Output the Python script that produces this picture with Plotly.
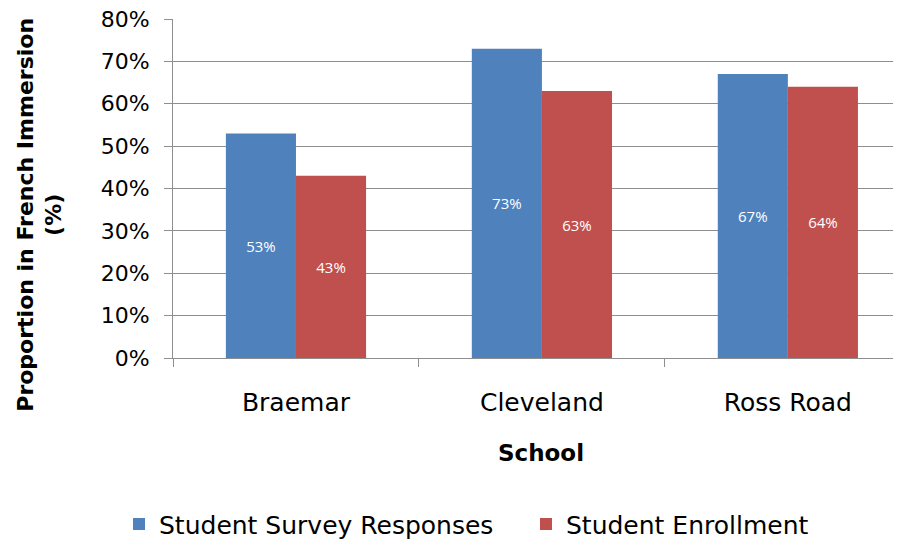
import plotly.graph_objects as go

schools = ["Braemar", "Cleveland", "Ross Road"]
survey = [53, 73, 67]
enrollment = [43, 63, 64]
y_ticks = [0, 10, 20, 30, 40, 50, 60, 70, 80]
y_tick_labels = [f"{v}%" for v in y_ticks]

FONT = "DejaVu Sans"
BLUE = "#4F81BD"
RED = "#C0504D"
GRID = "#8E8E8E"

fig = go.Figure()
fig.add_trace(go.Bar(
    name="Student Survey Responses", x=schools, y=survey,
    marker=dict(color=BLUE, line=dict(width=0)),
    text=[f"{v}%" for v in survey], textposition="inside",
    insidetextanchor="middle",
    textfont=dict(family="Open Sans", size=15, color="white"),
    legend="legend",
))
fig.add_trace(go.Bar(
    name="Student Enrollment", x=schools, y=enrollment,
    marker=dict(color=RED, line=dict(width=0)),
    text=[f"{v}%" for v in enrollment], textposition="inside",
    insidetextanchor="middle",
    textfont=dict(family="Open Sans", size=15, color="white"),
    legend="legend2",
))

legend_style = dict(orientation="h", xref="container", yref="container",
                    y=0.044, xanchor="left", yanchor="middle",
                    font=dict(family=FONT, size=25, color="black"),
                    itemwidth=30, bgcolor="rgba(0,0,0,0)")

# the page body adds an 8px offset; margins compensate for it
fig.update_layout(
    width=901, height=540,
    margin=dict(l=165, r=8, t=11, b=190, autoexpand=False),
    paper_bgcolor="white", plot_bgcolor="white",
    barmode="group", bargap=0.43, bargroupgap=0,
    font=dict(family=FONT, size=22, color="black"),
    showlegend=True,
    legend=dict(x=0.1232, **legend_style),
    legend2=dict(x=0.5749, **legend_style),
    uniformtext=dict(mode=None),
)
fig.update_xaxes(
    type="category", range=[-0.5, 2.46],
    showline=True, linecolor=GRID, linewidth=1,
    ticks="outside", tickson="boundaries", ticklen=8, tickcolor=GRID,
    ticklabelstandoff=22, ticklabeloverflow="allow",
    tickfont=dict(family=FONT, size=25, color="black"),
    showgrid=False, zeroline=False,
)
fig.update_yaxes(
    range=[0, 80], tickvals=y_ticks, ticktext=y_tick_labels,
    showline=True, linecolor=GRID, linewidth=1,
    ticks="outside", ticklen=8, tickcolor=GRID,
    ticklabelstandoff=10, ticklabeloverflow="allow",
    tickfont=dict(family=FONT, size=22, color="black"),
    showgrid=True, gridcolor=GRID, gridwidth=1, zeroline=False,
)
fig.add_annotation(
    text="<b>School</b>", xref="paper", yref="paper",
    x=0.5055, y=-0.280, xanchor="center", yanchor="middle",
    showarrow=False, font=dict(family=FONT, size=23, color="black"),
)
fig.add_annotation(
    text="<b>Proportion in French Immersion<br>(%)</b>", xref="paper", yref="paper",
    x=-0.183, y=0.422, xanchor="center", yanchor="middle", textangle=-90,
    showarrow=False, align="center",
    font=dict(family=FONT, size=22, color="black"),
)
fig.write_html("out.html")
